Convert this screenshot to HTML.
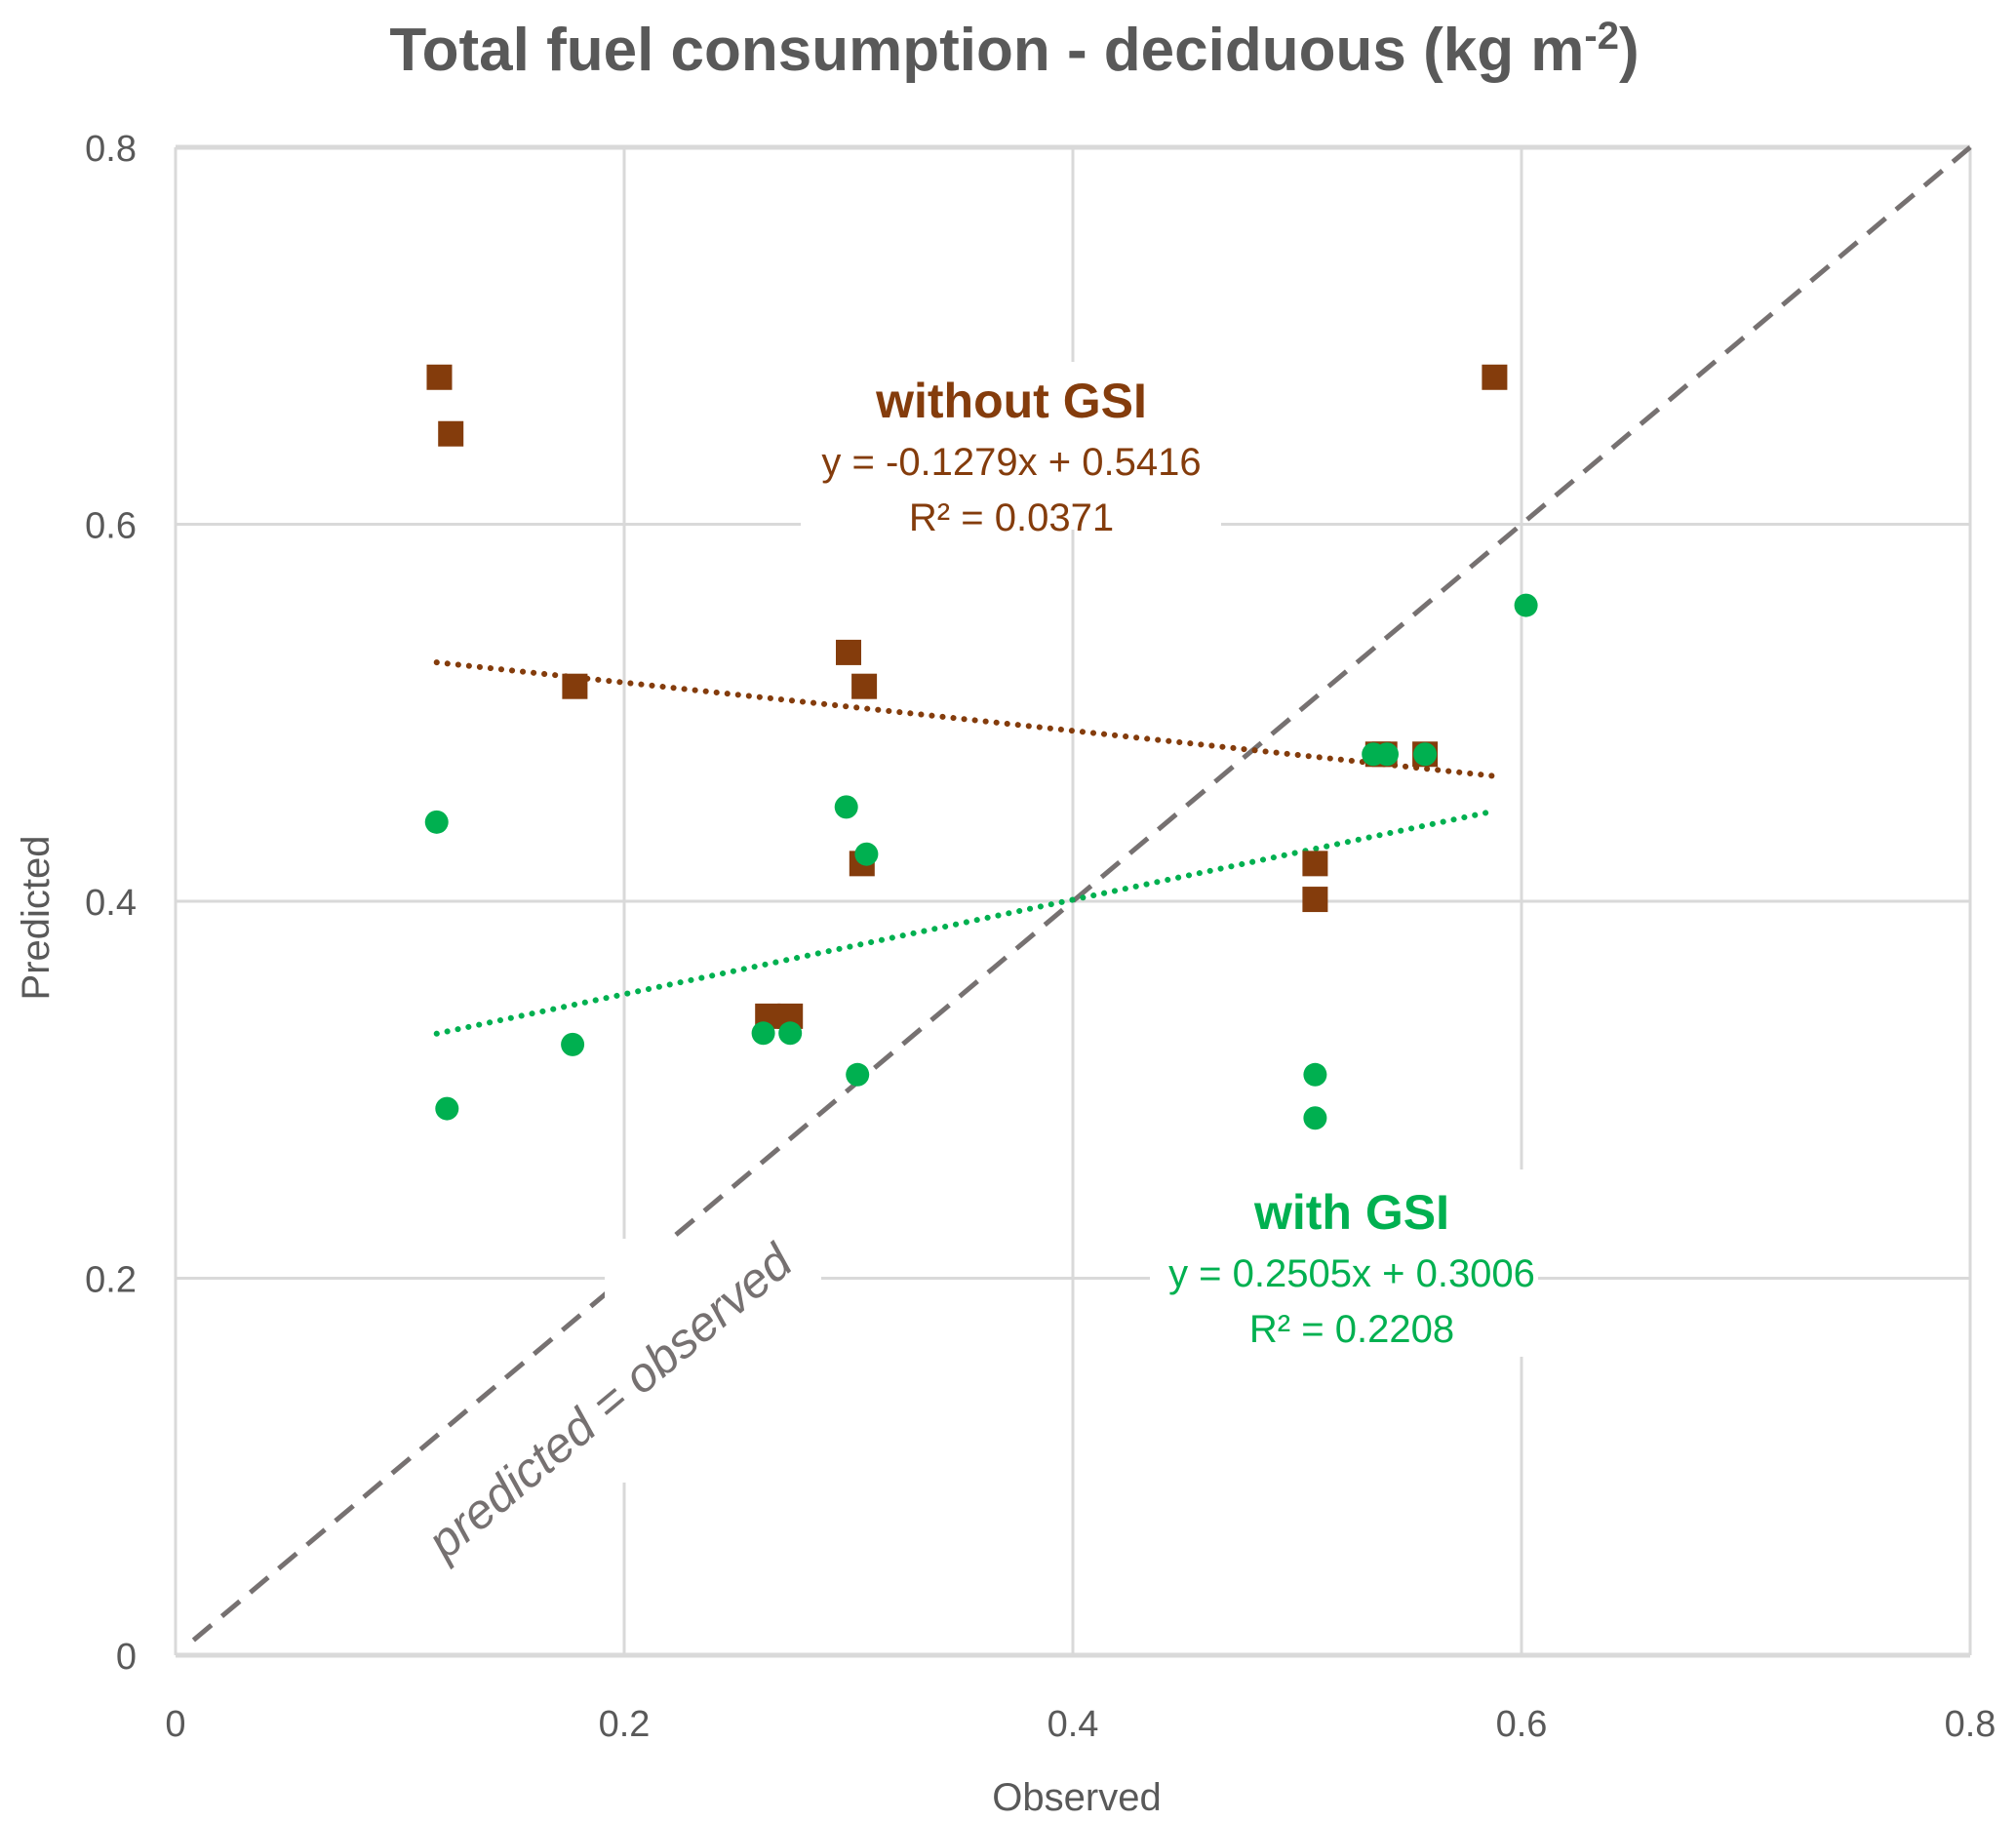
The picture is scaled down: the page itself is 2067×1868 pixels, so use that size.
<!DOCTYPE html>
<html><head><meta charset="utf-8"><style>
html,body{margin:0;padding:0;background:#fff}
svg{display:block}
text{font-family:"Liberation Sans",sans-serif}
</style></head><body>
<svg id="chart" width="2067" height="1868" viewBox="0 0 2067 1868" xmlns="http://www.w3.org/2000/svg">
<text x="1040" y="72" text-anchor="middle" font-size="62" font-weight="bold" fill="#595959">Total fuel consumption - deciduous (kg m<tspan dy="-22" font-size="40">-2</tspan><tspan dy="22">)</tspan></text>
<g id="grid"></g>
<g id="ann"></g>
<g id="marks"></g>
<text x="1104" y="1856" text-anchor="middle" font-size="40" fill="#595959">Observed</text>
<text transform="translate(50,941) rotate(-90)" text-anchor="middle" font-size="40" fill="#595959">Predicted</text>
</svg>
<script>
const ticks=[0,0.2,0.4,0.6,0.8];
const tickLabels=["0","0.2","0.4","0.6","0.8"];
const obsWithout=[0.1176,0.1227,0.178,0.264,0.274,0.300,0.307,0.306,0.508,0.508,0.536,0.539,0.557,0.588];
const predWithout=[0.678,0.648,0.514,0.339,0.339,0.532,0.514,0.420,0.420,0.401,0.478,0.478,0.478,0.678];
const obsWith=[0.1164,0.121,0.177,0.262,0.274,0.299,0.308,0.304,0.508,0.508,0.534,0.540,0.557,0.602];
const predWith=[0.442,0.290,0.324,0.330,0.330,0.450,0.425,0.308,0.308,0.285,0.478,0.478,0.478,0.557];
const fitWithout=[-0.1279,0.5416];
const fitWith=[0.2505,0.3006];
const NS="http://www.w3.org/2000/svg";
const L=180,R=2020,T=151,B=1697;
const X=v=>L+v/0.8*(R-L);
const Y=v=>B-v/0.8*(B-T);
function mk(p,tag,at){const e=document.createElementNS(NS,tag);for(const k in at)e.setAttribute(k,at[k]);p.appendChild(e);return e;}
const grid=document.getElementById('grid'),marks=document.getElementById('marks'),ann=document.getElementById('ann');
ticks.forEach((t,i)=>{
 const gx=mk(grid,'line',{x1:X(t),x2:X(t),y1:T,y2:B,stroke:'#d9d9d9','stroke-width':3});
 
 
 const gy=mk(grid,'line',{x1:L,x2:R,y1:Y(t),y2:Y(t),stroke:'#d9d9d9','stroke-width':(t==0||t==0.8)?5:3});
 
 
 const xl=mk(grid,'text',{x:X(t),y:1780,'text-anchor':'middle','font-size':38,fill:'#595959'});xl.textContent=tickLabels[i];
 
 
 const yl=mk(grid,'text',{x:140,y:Y(t)+14,'text-anchor':'end','font-size':38,fill:'#595959'});yl.textContent=tickLabels[i];
 
 
});
const d=mk(grid,'line',{x1:X(0.008),y1:Y(0.008),x2:X(0.8),y2:Y(0.8),stroke:'#767171','stroke-width':5,'stroke-dasharray':'24,14'});


mk(ann,'rect',{x:821,y:371,width:431,height:172,fill:'#fff'});
mk(ann,'rect',{x:1179,y:1199,width:398,height:192,fill:'#fff'});
mk(ann,'rect',{x:620,y:1270,width:222,height:220,fill:'#fff'});
mk(ann,'rect',{x:580,y:1420,width:140,height:100,fill:'#fff'});
function txt(x,y,s,sz,fill,bold,name){const e=mk(ann,'text',{x:x,y:y,'text-anchor':'middle','font-size':sz,fill:fill,'font-weight':bold?'bold':'normal'});e.textContent=s;}
txt(1037,428,'without GSI',50,'#843C0C',true,'label-without-gsi');
txt(1037,487,'y = -0.1279x + 0.5416',40,'#843C0C',false,'equation-without-gsi');
txt(1037,544,'R² = 0.0371',40,'#843C0C',false,'r2-without-gsi');
txt(1386,1260,'with GSI',50,'#00B050',true,'label-with-gsi');
txt(1386,1319,'y = 0.2505x + 0.3006',40,'#00B050',false,'equation-with-gsi');
txt(1386,1376,'R² = 0.2208',40,'#00B050',false,'r2-with-gsi');
const po=mk(ann,'text',{x:0,y:0,'text-anchor':'middle','font-size':50,fill:'#767171','font-style':'italic',transform:'translate(636,1450) rotate(-40)'});
po.textContent='predicted = observed';


function trend(xs,fit,col,name){const a=0.1164,b=0.588;
 const e=mk(marks,'line',{x1:X(a),y1:Y(fit[0]*a+fit[1]),x2:X(b),y2:Y(fit[0]*b+fit[1]),stroke:col,'stroke-width':6,'stroke-dasharray':'0.1,11','stroke-linecap':'round'});
 
 }
trend(obsWithout,fitWithout,'#843C0C','trendline-without-gsi');
trend(obsWith,fitWith,'#00B050','trendline-with-gsi');
obsWithout.forEach((v,i)=>{const s=mk(marks,'rect',{x:X(v)-13,y:Y(predWithout[i])-13,width:26,height:26,fill:'#843C0C'});
 
 });
obsWith.forEach((v,i)=>{const c=mk(marks,'circle',{cx:X(v),cy:Y(predWith[i]),r:12,fill:'#00B050'});
 
 });
</script>
</body></html>
